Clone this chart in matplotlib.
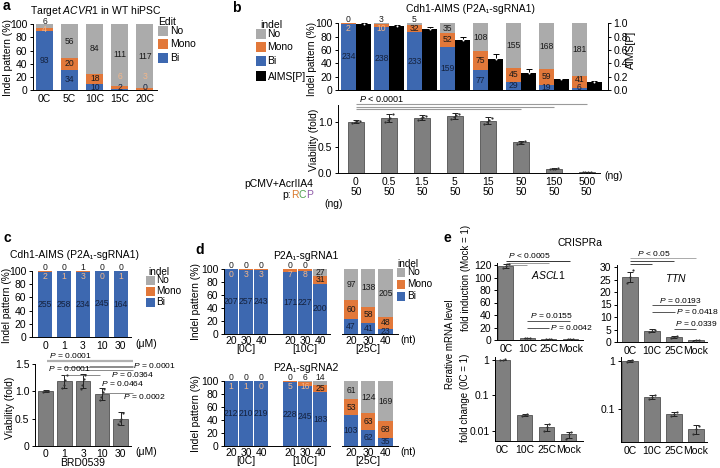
import numpy as np
import matplotlib
matplotlib.use("Agg")
import matplotlib.pyplot as plt
from matplotlib.patches import Rectangle

plt.rcParams['font.family'] = ['Liberation Sans', 'DejaVu Sans']
plt.rcParams['font.size'] = 7
plt.rcParams['mathtext.fontset'] = 'custom'
plt.rcParams['mathtext.it'] = 'Liberation Sans:italic'
plt.rcParams['mathtext.rm'] = 'Liberation Sans'
plt.rcParams['axes.linewidth'] = 0.7

W, H = 720, 468
NO_C, MONO_C, BI_C = '#ababab', '#e2783a', '#3d68b0'
VIA_C = '#7f7f7f'
BI_TXT, MONO_LIGHT = '#14213d', '#f2b68a'

# ---- data (counts for indel patterns, fold values for viability / mRNA)
a_cats = ['0C', '5C', '10C', '15C', '20C']
a_bi = [93, 34, 10, 2, 0]
a_mono = [4, 20, 18, 6, 3]
a_no = [6, 56, 84, 111, 117]

b_acr = ['0', '0.5', '1.5', '5', '15', '50', '150', '500']
b_rcp = ['50', '50', '50', '50', '50', '50', '50', '50']
b_bi = [234, 238, 233, 159, 77, 29, 19, 6]
b_mono = [2, 10, 32, 52, 75, 45, 59, 41]
b_no = [0, 3, 5, 35, 108, 155, 168, 181]
b_aims = [0.99, 0.96, 0.91, 0.75, 0.47, 0.26, 0.16, 0.12]
b_aims_sd = [0.01, 0.01, 0.03, 0.05, 0.07, 0.05, 0.01, 0.01]
b_via = [1.0, 1.07, 1.08, 1.11, 1.02, 0.60, 0.08, 0.01]
b_via_sd = [0.03, 0.08, 0.05, 0.06, 0.07, 0.03, 0.01, 0.005]
b_via_reps = [[0.97, 1.0, 1.02, 1.01], [0.99, 1.03, 1.08, 1.15], [1.04, 1.07, 1.09, 1.12],
              [1.05, 1.09, 1.13, 1.16], [0.96, 1.0, 1.04, 1.08], [0.57, 0.59, 0.61, 0.63],
              [0.07, 0.08, 0.08, 0.09], [0.01, 0.01, 0.01, 0.01]]

c_doses = ['0', '1', '3', '10', '30']
c_bi = [255, 258, 234, 245, 164]
c_mono = [2, 1, 3, 0, 1]
c_no = [0, 0, 1, 0, 0]
c_via = [1.0, 1.18, 1.19, 0.95, 0.50]
c_via_sd = [0.02, 0.11, 0.13, 0.11, 0.12]
c_via_reps = [[0.99, 1.0, 1.0, 1.01], [1.07, 1.12, 1.2, 1.3], [1.05, 1.12, 1.22, 1.3],
              [0.85, 0.9, 0.98, 1.05], [0.4, 0.45, 0.5, 0.6]]

d_len = ['20', '30', '40']
d_temps = ['[0C]', '[10C]', '[25C]']
d1_bi = [[207, 257, 243], [171, 227, 200], [47, 41, 23]]
d1_mono = [[0, 3, 3], [7, 8, 31], [60, 58, 48]]
d1_no = [[0, 0, 0], [0, 0, 27], [97, 138, 205]]
d2_bi = [[212, 210, 219], [228, 245, 183], [103, 62, 35]]
d2_mono = [[1, 1, 0], [5, 16, 25], [53, 63, 68]]
d2_no = [[0, 0, 0], [0, 6, 14], [61, 124, 169]]

e_cats = ['0C', '10C', '25C', 'Mock']
e_ascl1_ind = [118, 3.2, 1.5, 1.0]
e_ascl1_ind_sd = [3, 0.4, 0.2, 0.1]
e_ascl1_ind_reps = [[115, 118, 122], [2.8, 3.2, 3.5], [1.3, 1.5, 1.7], [0.9, 1.0, 1.1]]
e_ttn_ind = [26.2, 4.6, 2.0, 0.8]
e_ttn_ind_sd = [2.0, 0.5, 0.3, 0.15]
e_ttn_ind_reps = [[23.5, 26, 29], [4.1, 4.6, 5.0], [1.8, 2.0, 2.3], [0.6, 0.8, 1.0]]
e_ascl1_fc = [1.0, 0.028, 0.013, 0.008]
e_ascl1_fc_sd = [0.02, 0.002, 0.003, 0.0015]
e_ascl1_fc_reps = [[0.97, 1.0, 1.03], [0.026, 0.028, 0.030], [0.010, 0.013, 0.016], [0.006, 0.008, 0.0095]]
e_ttn_fc = [1.0, 0.18, 0.078, 0.038]
e_ttn_fc_sd = [0.05, 0.02, 0.008, 0.008]
e_ttn_fc_reps = [[0.94, 1.0, 1.06], [0.16, 0.18, 0.2], [0.07, 0.078, 0.088], [0.03, 0.038, 0.045]]

fig = plt.figure(figsize=(7.2, 4.68), dpi=100)


def px_axes(l, t, r, b):
    ax = fig.add_axes([l / W, 1 - b / H, (r - l) / W, (b - t) / H])
    for s in ('top', 'right'):
        ax.spines[s].set_visible(False)
    ax.tick_params(length=2.5, width=0.7, pad=1.5, labelsize=7.5)
    ax.tick_params(axis='x', length=0, pad=3)
    ax.patch.set_alpha(0)
    return ax


def ftext(x, y, s, **kw):
    kw.setdefault('va', 'center')
    return fig.text(x / W, 1 - y / H, s, **kw)


def ylab(x, y, s, fs=7.5):
    ftext(x, y, s, ha='center', rotation=90, fontsize=fs)


def legend(x, y, title, items, box=9, step=13, fs=7.5, tx=0):
    ftext(x + tx, y, title, fontsize=fs)
    for i, (lab, col) in enumerate(items):
        top = y + 4 + i * step
        fig.add_artist(Rectangle((x / W, 1 - (top + box) / H), box / W, box / H,
                                 transform=fig.transFigure, facecolor=col, edgecolor='none'))
        ftext(x + box + 2, top + box / 2, lab, fontsize=fs)


def stacked(ax, xs, bi, mono, no, width, fs=6.2):
    bi, mono, no = (np.asarray(v, float) for v in (bi, mono, no))
    tot = bi + mono + no
    pb, pm, pn = 100 * bi / tot, 100 * mono / tot, 100 * no / tot
    ax.bar(xs, pb, width, color=BI_C, linewidth=0)
    ax.bar(xs, pm, width, bottom=pb, color=MONO_C, linewidth=0)
    ax.bar(xs, pn, width, bottom=pb + pm, color=NO_C, linewidth=0)
    for i, x in enumerate(xs):
        kw = dict(ha='center', va='center', fontsize=fs)
        ax.text(x, max(pb[i] / 2, 4), f"{bi[i]:.0f}", color=BI_TXT, **kw)
        yn = 105 if pn[i] < 7 else 100 - pn[i] / 2
        ax.text(x, yn, f"{no[i]:.0f}", color='#1a1a1a', **kw)
        cm = pb[i] + pm[i] / 2
        if pm[i] >= 8:
            ax.text(x, max(cm, 15), f"{mono[i]:.0f}", color='#1a1a1a', **kw)
        else:
            ax.text(x, min(max(cm, 20), 92), f"{mono[i]:.0f}", color=MONO_LIGHT, **kw)
    ax.set_ylim(0, 100)
    ax.set_yticks(range(0, 101, 20))


def via_bars(ax, xs, vals, sd, reps, width):
    ax.bar(xs, vals, width, color=VIA_C, edgecolor='#3a3a3a', linewidth=0.5)
    ax.errorbar(xs, vals, yerr=sd, fmt='none', ecolor='#222', elinewidth=0.7,
                capsize=2, capthick=0.7)
    for x, rr in zip(xs, reps):
        offs = np.linspace(-0.12, 0.12, len(rr))
        ax.scatter(x + offs, rr, s=2.5, color='#333', zorder=3, linewidths=0)


def sig(ax, x0, x1, y, color='#555', lw=0.7):
    ax.plot([x0, x1], [y, y], color=color, lw=lw, clip_on=False, solid_capstyle='butt')


pk = dict(fontsize=6.1, va='center')

# ================= panel a =================
ftext(3, 6, 'a', fontsize=10, fontweight='bold')
ftext(96, 10.5, r'Target $\it{ACVR1}$ in WT hiPSC', ha='center', fontsize=7.5)
ax = px_axes(33, 24.3, 157, 90)
xa = np.arange(len(a_cats))
stacked(ax, xa, a_bi, a_mono, a_no, 0.68)
ax.set_xlim(-0.46, 4.48)
ax.set_xticks(xa)
ax.set_xticklabels(a_cats, fontsize=7.5)
ylab(8, 57, 'Indel pattern (%)')
legend(158, 22, 'Edit', [('No', NO_C), ('Mono', MONO_C), ('Bi', BI_C)], box=10, step=13.3)

# ================= panel b =================
ftext(232, 8, 'b', fontsize=10, fontweight='bold')
ftext(471, 9, 'Cdh1-AIMS (P2A\u2081-sgRNA1)', ha='center', fontsize=7.5)
ax = px_axes(338, 23.3, 608, 90)
xb = np.arange(len(b_acr))
stacked(ax, xb - 0.23, b_bi, b_mono, b_no, 0.44)
ax.set_xlim(-0.545, 7.64)
ax.set_xticks([])
ylab(312, 59, 'Indel pattern (%)', fs=7.2)
tw = ax.twinx()
tw.bar(xb + 0.23, b_aims, 0.44, color='black')
tw.errorbar(xb + 0.23, b_aims, yerr=b_aims_sd, fmt='none', ecolor='black',
            elinewidth=0.7, capsize=2, capthick=0.7)
tw.scatter(xb + 0.23, b_aims, s=2, color='white', zorder=3, linewidths=0)
tw.set_ylim(0, 1)
tw.set_yticks(np.arange(0, 1.01, 0.2))
tw.set_yticklabels([f"{v:.1f}" for v in np.arange(0, 1.01, 0.2)])
tw.spines['top'].set_visible(False)
tw.spines['left'].set_visible(False)
tw.tick_params(length=2.5, width=0.7, pad=1.5, labelsize=7.5)
ylab(631, 50, 'AIMS[P]')
legend(256, 25, 'indel', [('No', NO_C), ('Mono', MONO_C), ('Bi', BI_C)], box=9.5, step=13.5, tx=4)
fig.add_artist(Rectangle((256 / W, 1 - 81 / H), 9.5 / W, 9.5 / H, transform=fig.transFigure,
                         facecolor='black', edgecolor='none'))
ftext(268, 76.5, 'AIMS[P]', fontsize=7.5)

ax = px_axes(338, 105, 600, 173)
via_bars(ax, xb, b_via, b_via_sd, b_via_reps, 0.48)
ax.set_xlim(-0.545, 7.4)
ax.set_ylim(0, 1.33)
ax.set_yticks([0, 0.5, 1.0])
ax.set_yticklabels(['0.0', '0.5', '1.0'])
ylab(314, 140, 'Viability (fold)')
ax.set_xticks(xb)
ax.set_xticklabels([f"{p}\n{q}" for p, q in zip(b_acr, b_rcp)], fontsize=7.5, linespacing=1.0)
for end, yy in zip([7, 6, 5], [1.35, 1.29, 1.25]):
    sig(ax, 0, end, yy, color='#9a9a9a', lw=0.8)
ax.text(0.1, 1.45, r'$\it{P}$ < 0.0001', fontsize=6.5, va='center')
ftext(313, 184, 'pCMV+AcrIIA4', ha='right', fontsize=7.5)
# coloured p:RCP label, drawn right to left
r = fig.canvas.get_renderer()
xr = 313
for ch, col in [('P', '#8e5aa8'), ('C', '#4fa04f'), ('R', '#d9782d'), ('p:', 'black')]:
    t = ftext(xr, 195, ch, ha='right', fontsize=7.5, color=col)
    xr -= t.get_window_extent(r).width
ftext(324, 204, '(ng)', fontsize=7.5)
ftext(604, 176, '(ng)', fontsize=7.5)

# ================= panel c =================
ftext(3, 238, 'c', fontsize=10, fontweight='bold')
ftext(75, 255, 'Cdh1-AIMS (P2A\u2081-sgRNA1)', ha='center', fontsize=7.5)
xc = np.arange(len(c_doses))
ax = px_axes(32, 271, 131, 337)
stacked(ax, xc, c_bi, c_mono, c_no, 0.77)
ax.set_xlim(-0.7, 4.54)
ax.set_xticks(xc)
ax.set_xticklabels(c_doses, fontsize=7.5)
ylab(7, 305, 'Indel pattern (%)', fs=7.3)
ftext(135, 344, '(\u03bcM)', fontsize=7.5)
legend(146, 272, 'indel', [('No', NO_C), ('Mono', MONO_C), ('Bi', BI_C)], box=8.5, step=11, fs=7.2, tx=2)

ax = px_axes(35, 364, 131, 446)
via_bars(ax, xc, c_via, c_via_sd, c_via_reps, 0.78)
ax.set_xlim(-0.56, 4.55)
ax.set_ylim(0, 1.5)
ax.set_yticks([0, 0.5, 1.0, 1.5])
ax.set_yticklabels(['0', '0.5', '1.0', '1.5'])
ax.set_xticks(xc)
ax.set_xticklabels(c_doses, fontsize=7.5)
ax.tick_params(axis='x', pad=2)
ylab(10, 408, 'Viability (fold)')
ftext(135, 452, '(\u03bcM)', fontsize=7.5)
ftext(83, 463.5, 'BRD0539', ha='center', fontsize=7.5)
sig(ax, 0.08, 4.65, 1.55, color='#b0b0b0', lw=1.6)
sig(ax, 2.3, 4.65, 1.47, color='#777', lw=0.6)
sig(ax, 1.0, 4.65, 1.44, color='#777', lw=0.6)
sig(ax, 2.0, 4.65, 1.39, color='#777', lw=0.6)
sig(ax, 1.0, 2.9, 1.30, color='#777', lw=0.6)
sig(ax, 3.0, 4.65, 0.97, color='#777', lw=0.6)
ax.text(0.2, 1.65, r'$\it{P}$ = 0.0001', **pk)
ax.text(0.15, 1.41, r'$\it{P}$ = 0.0001', **pk)
ax.text(4.65, 1.47, r'$\it{P}$ = 0.0001', **pk)
ax.text(3.5, 1.30, r'$\it{P}$ = 0.0364', **pk)
ax.text(2.95, 1.14, r'$\it{P}$ = 0.0464', **pk)
ax.text(4.15, 0.90, r'$\it{P}$ = 0.0002', **pk)

# ================= panel d =================
ftext(195, 250, 'd', fontsize=10, fontweight='bold')
xd = np.concatenate([g * 3.95 + np.arange(3) for g in range(2)])
xd25 = np.arange(3)
for top, bot, title, bi, mono, no in [(269, 334, 'P2A\u2081-sgRNA1', d1_bi, d1_mono, d1_no),
                                      (381, 446, 'P2A\u2081-sgRNA2', d2_bi, d2_mono, d2_no)]:
    ftext(306, top - 13, title, ha='center', fontsize=7.5)
    ax = px_axes(224, top, 330, bot)
    stacked(ax, xd, sum(bi[:2], []), sum(mono[:2], []), sum(no[:2], []), 0.91)
    ax.set_xlim(-0.47, 6.6)
    ax.set_xticks(xd)
    ax.set_xticklabels(d_len * 2, fontsize=7.5)
    ax.tick_params(axis='x', pad=1.5)
    for g in range(2):
        ax.text(xd[3 * g + 1], -15 / (bot - top), d_temps[g], ha='center', va='center',
                fontsize=7.5, transform=ax.get_xaxis_transform())
    ylab(196, (top + bot) / 2, 'Indel pattern (%)')
    ax2 = px_axes(342, top, 398, bot)
    stacked(ax2, xd25, bi[2], mono[2], no[2], 0.84)
    ax2.set_xlim(-0.52, 2.73)
    ax2.set_xticks(xd25)
    ax2.set_xticklabels(d_len, fontsize=7.5)
    ax2.tick_params(axis='x', pad=1.5)
    ax2.text(xd25[1], -15 / (bot - top), d_temps[2], ha='center', va='center',
             fontsize=7.5, transform=ax2.get_xaxis_transform())
    ax2.spines['left'].set_visible(False)
    ax2.set_yticks([])
    ftext(400, bot + 6, '(nt)', fontsize=7.5)
legend(397, 264, 'indel', [('No', NO_C), ('Mono', MONO_C), ('Bi', BI_C)], box=8.5, step=12, fs=7.2)

# ================= panel e =================
ftext(443, 238, 'e', fontsize=10, fontweight='bold')
ftext(580, 243, 'CRISPRa', ha='center', fontsize=7.5)
ylab(450, 344, 'Rerative mRNA level', fs=7)
ylab(466, 278, 'fold induction (Mock = 1)', fs=7)
ylab(465, 398, 'fold change (0C = 1)', fs=7)
xe = np.arange(len(e_cats))

ax = px_axes(497, 262.5, 583, 340)
via_bars(ax, xe, e_ascl1_ind, e_ascl1_ind_sd, e_ascl1_ind_reps, 0.7)
ax.set_xlim(-0.42, 3.6)
ax.set_ylim(0, 124)
ax.set_yticks(range(0, 121, 20))
ax.set_xticks(xe)
ax.set_xticklabels(e_cats, fontsize=7.5)
ax.text(2.0, 97, r'$\it{ASCL1}$', ha='center', fontsize=7.5)
sig(ax, 0, 3, 126.5, color='#333')
sig(ax, 0, 2, 123, color='#999')
sig(ax, 0, 1, 119.5, color='#999')
ax.text(0.1, 136, r'$\it{P}$ < 0.0005', **pk)
sig(ax, 1, 3, 30.4)
ax.text(1.1, 38.4, r'$\it{P}$ = 0.0155', **pk)
sig(ax, 1, 2, 19.2)
ax.text(2.05, 19.2, r'$\it{P}$ = 0.0042', **pk)

ax = px_axes(617, 264.5, 707, 342)
via_bars(ax, xe, e_ttn_ind, e_ttn_ind_sd, e_ttn_ind_reps, 0.7)
ax.set_xlim(-0.59, 3.5)
ax.set_ylim(0, 31)
ax.set_yticks(range(0, 31, 5))
ax.set_xticks(xe)
ax.set_xticklabels(e_cats, fontsize=7.5)
ax.text(2.1, 24, r'$\it{TTN}$', ha='center', fontsize=7.5)
sig(ax, 0, 3, 33.6, color='#aaa')
sig(ax, 0, 2, 32.4, color='#444')
sig(ax, 0, 1, 31.2, color='#444')
ax.text(0.3, 35.4, r'$\it{P}$ < 0.05', **pk)
sig(ax, 1, 3, 14.8)
ax.text(1.3, 16.6, r'$\it{P}$ = 0.0193', **pk)
sig(ax, 1, 2.05, 12)
ax.text(2.1, 12, r'$\it{P}$ = 0.0418', **pk)
sig(ax, 2, 3, 5.2)
ax.text(2.05, 7.2, r'$\it{P}$ = 0.0339', **pk)

ax = px_axes(495, 357, 583, 441)
ax.set_yscale('log')
via_bars(ax, xe, e_ascl1_fc, e_ascl1_fc_sd, e_ascl1_fc_reps, 0.7)
ax.set_xlim(-0.35, 3.65)
ax.set_ylim(0.0052, 1.2)
ax.set_yticks([0.01, 0.1, 1])
ax.set_yticklabels(['0.01', '0.1', '1'])
ax.minorticks_off()
ax.set_xticks(xe)
ax.set_xticklabels(e_cats, fontsize=7.5)

ax = px_axes(621, 357, 707, 442)
ax.set_yscale('log')
via_bars(ax, xe, e_ttn_fc, e_ttn_fc_sd, e_ttn_fc_reps, 0.7)
ax.set_xlim(-0.4, 3.5)
ax.set_ylim(0.0205, 1.21)
ax.set_yticks([0.1, 1])
ax.set_yticklabels(['0.1', '1'])
ax.minorticks_off()
ax.set_xticks(xe)
ax.set_xticklabels(e_cats, fontsize=7.5)

fig.savefig('out.png', dpi=100)
